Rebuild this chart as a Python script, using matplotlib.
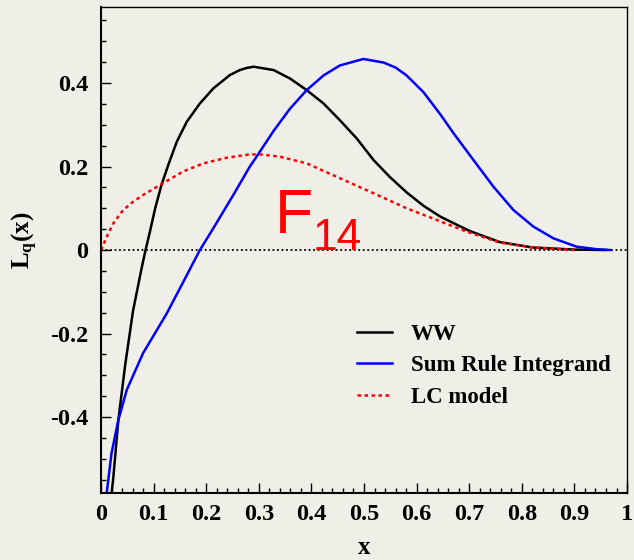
import matplotlib
matplotlib.use('Agg')
import matplotlib.pyplot as plt

# values
ww_x = [0.020, 0.023, 0.033, 0.046, 0.061, 0.077, 0.084, 0.093, 0.103, 0.115, 0.128, 0.144,
        0.163, 0.188, 0.2135, 0.245, 0.264, 0.277, 0.290, 0.328, 0.359, 0.391, 0.423, 0.454,
        0.486, 0.518, 0.549, 0.581, 0.613, 0.645, 0.700, 0.758, 0.821, 0.900, 0.960]
ww_y = [-0.582, -0.551, -0.407, -0.275, -0.145, -0.045, -0.004, 0.044, 0.100, 0.156, 0.204, 0.259,
        0.307, 0.351, 0.387, 0.419, 0.431, 0.436, 0.439, 0.431, 0.411, 0.383, 0.351, 0.311,
        0.2675, 0.2156, 0.175, 0.138, 0.106, 0.080, 0.046, 0.019, 0.006, 0.001, 0.000]

sr_x = [0.011, 0.020, 0.033, 0.049, 0.080, 0.125, 0.157, 0.188, 0.2135, 0.2516, 0.283,
        0.296, 0.328, 0.359, 0.391, 0.423, 0.454, 0.4987, 0.537, 0.560, 0.581, 0.613, 0.645,
        0.670, 0.708, 0.746, 0.784, 0.822, 0.860, 0.904, 0.942, 0.968]
sr_y = [-0.580, -0.487, -0.407, -0.335, -0.247, -0.152, -0.075, 0.000, 0.052, 0.132, 0.200,
        0.224, 0.285, 0.338, 0.383, 0.418, 0.442, 0.4575, 0.449, 0.437, 0.418, 0.378, 0.325,
        0.280, 0.2156, 0.1517, 0.0958, 0.056, 0.028, 0.008, 0.002, 0.000]

lc_x = [0.000, 0.001, 0.011, 0.0234, 0.0424, 0.0614, 0.0804, 0.118, 0.156, 0.1945, 0.239, 0.283,
        0.302, 0.340, 0.391, 0.454, 0.518, 0.581, 0.638, 0.695, 0.758, 0.821, 0.900]
lc_y = [0.000, 0.002, 0.032, 0.064, 0.096, 0.116, 0.132, 0.160, 0.188, 0.2075, 0.221, 0.229,
        0.229, 0.2236, 0.2075, 0.172, 0.136, 0.100, 0.072, 0.044, 0.018, 0.006, 0.000]

labels = ['WW', 'Sum Rule Integrand', 'LC model']
xticks = [0, 0.1, 0.2, 0.3, 0.4, 0.5, 0.6, 0.7, 0.8, 0.9, 1]
xticklabels = ['0', '0.1', '0.2', '0.3', '0.4', '0.5', '0.6', '0.7', '0.8', '0.9', '1']
yticks = [-0.4, -0.2, 0, 0.2, 0.4]
yticklabels = ['-0.4', '-0.2', '0', '0.2', '0.4']

bg = '#f0efe7'
plt.rcParams['font.family'] = 'Liberation Serif'
plt.rcParams['font.weight'] = 'bold'
plt.rcParams['mathtext.fontset'] = 'custom'
plt.rcParams['mathtext.rm'] = 'Liberation Serif:bold'
plt.rcParams['mathtext.bf'] = 'Liberation Serif:bold'
plt.rcParams['mathtext.it'] = 'Liberation Serif:bold'

fig = plt.figure(figsize=(6.34, 5.6), dpi=100, facecolor=bg)
ax = fig.add_axes([0.1593, 0.1196, 0.8297, 0.8679], facecolor=bg)

ax.axhline(0, color='black', lw=1.3, ls=(0, (1, 1.5)))
ax.plot(ww_x, ww_y, color='black', lw=1.8, label=labels[0])
ax.plot(sr_x, sr_y, color='blue', lw=1.8, label=labels[1])
ax.plot(lc_x, lc_y, color='red', lw=1.8, ls=(0, (1.4, 1.4)), label=labels[2])

ax.set_xlim(0, 1)
ax.set_ylim(-0.582, 0.582)
ax.set_xticks(xticks)
ax.set_xticklabels(xticklabels)
ax.set_yticks(yticks)
ax.set_yticklabels(yticklabels)
ax.set_xticks([i * 0.02 for i in range(51)], minor=True)
ax.set_yticks([-0.55 + i * 0.05 for i in range(23)], minor=True)
ax.tick_params(which='both', direction='in', top=False, right=False, labelsize=17.5)
ax.tick_params(which='major', length=7, width=1)
ax.tick_params(which='minor', length=3.5, width=1)
ax.tick_params(axis='x', pad=8)
ax.tick_params(axis='y', pad=9)
for s in ['left', 'bottom']:
    ax.spines[s].set_linewidth(1.5)
for s in ['top', 'right']:
    ax.spines[s].set_linewidth(1.0)

ax.text(0.331, 0.535, 'F', transform=ax.transAxes, color='red', fontsize=45,
        family='Liberation Sans', fontweight='normal')
ax.text(0.403, 0.5, '14', transform=ax.transAxes, color='red', fontsize=32,
        family='Liberation Sans', fontweight='normal')

ax.legend(loc='upper left', bbox_to_anchor=(0.487, 0.348), frameon=False, fontsize=16.5,
          handlelength=1.5, handletextpad=0.85, labelspacing=0.45, borderpad=0, borderaxespad=0)

fig.text(364 / 634, 1 - 548 / 560, 'x', ha='center', va='center', fontsize=18)
fig.text(25 / 634, 1 - 240 / 560, r'$\mathrm{L_q(x)}$', ha='center', va='center',
         rotation=90, fontsize=18)

fig.savefig('out.png', dpi=100, facecolor=bg)
